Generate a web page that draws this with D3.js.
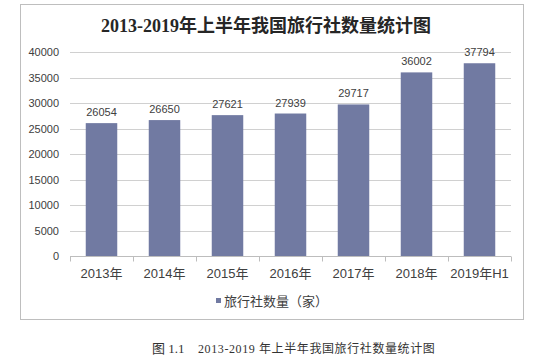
<!DOCTYPE html>
<html><head><meta charset="utf-8">
<script src="https://cdn.jsdelivr.net/npm/d3@7"></script>
<style>body{margin:0;background:#fff}svg{display:block}</style>
</head><body>
<script>
const categories = ["2013年","2014年","2015年","2016年","2017年","2018年","2019年H1"];
const values = [26054,26650,27621,27939,29717,36002,37794];
const yTicks = [0,5000,10000,15000,20000,25000,30000,35000,40000];
const title = "2013-2019年上半年我国旅行社数量统计图";
const legendLabel = "旅行社数量（家）";
const captionNum = "图 1.1";
const captionText = "2013-2019 年上半年我国旅行社数量统计图";

const W = 534, H = 361;
const svg = d3.select("body").append("svg").attr("width", W).attr("height", H);
const sans = "Arial, 'Liberation Sans', 'Noto Sans CJK SC', sans-serif";
const serif = "'Liberation Serif', 'Times New Roman', 'Noto Sans CJK SC', serif";

// frame
svg.append("rect").attr("x", 20.5).attr("y", 4.5).attr("width", 503).attr("height", 315)
  .attr("fill", "#fff").attr("stroke", "#BEBEBE").attr("stroke-width", 1);

svg.append("text").attr("x", 266).attr("y", 32).attr("text-anchor", "middle")
  .attr("font-family", serif).attr("font-weight", "bold").attr("font-size", 18)
  .attr("fill", "#262626").text(title);

const x = d3.scaleBand().domain(categories).range([70, 511]).paddingInner(0.5).paddingOuter(0.25);
const y = d3.scaleLinear().domain([0, 40000]).range([256, 52]);

// gridlines
svg.append("g").selectAll("line").data(yTicks.filter(d => d > 0)).join("line")
  .attr("x1", 70).attr("x2", 511)
  .attr("y1", d => Math.round(y(d)) + 0.5).attr("y2", d => Math.round(y(d)) + 0.5)
  .attr("stroke", "#D0D0D0");

// y axis labels
const yAxis = d3.axisLeft(y).tickValues(yTicks).tickSize(0).tickPadding(0).tickFormat(d3.format("d"));
const gy = svg.append("g").attr("transform", "translate(59,0)").call(yAxis);
gy.select(".domain").remove();
gy.selectAll("text").attr("font-family", sans).attr("font-size", 11).attr("fill", "#404040");

// bars
svg.append("g").selectAll("rect").data(values).join("rect")
  .attr("x", (d, i) => x(categories[i])).attr("width", x.bandwidth())
  .attr("y", d => y(d)).attr("height", d => y(0) - y(d))
  .attr("fill", "#717AA2");

// data labels
svg.append("g").selectAll("text").data(values).join("text")
  .attr("x", (d, i) => x(categories[i]) + x.bandwidth() / 2)
  .attr("y", d => y(d) - 7)
  .attr("text-anchor", "middle")
  .attr("font-family", sans).attr("font-size", 11).attr("fill", "#404040")
  .text(d => d);

// x axis
const base = Math.round(y(0)) + 0.5;
svg.append("line").attr("x1", 70).attr("x2", 511).attr("y1", base).attr("y2", base).attr("stroke", "#BDBDBD");
const step = (511 - 70) / categories.length;
svg.append("g").selectAll("line").data(d3.range(categories.length + 1)).join("line")
  .attr("x1", i => Math.round(70 + i * step) + 0.5).attr("x2", i => Math.round(70 + i * step) + 0.5)
  .attr("y1", base).attr("y2", base + 5).attr("stroke", "#BDBDBD");
svg.append("g").selectAll("text").data(categories).join("text")
  .attr("x", d => x(d) + x.bandwidth() / 2).attr("y", 278)
  .attr("text-anchor", "middle")
  .attr("font-family", sans).attr("font-size", 13).attr("fill", "#404040")
  .text(d => d);

// legend
svg.append("rect").attr("x", 216).attr("y", 298).attr("width", 5).attr("height", 5).attr("fill", "#717AA2");
svg.append("text").attr("x", 224).attr("y", 305.5)
  .attr("font-family", sans).attr("font-size", 13).attr("fill", "#404040").text(legendLabel);

// caption
svg.append("text").attr("x", 152).attr("y", 353)
  .attr("font-family", serif).attr("font-size", 13).attr("fill", "#333")
  .style("white-space", "pre").text(captionNum);
svg.append("text").attr("x", 198).attr("y", 353)
  .attr("font-family", serif).attr("font-size", 12).attr("fill", "#333")
  .attr("letter-spacing", 0.6).style("white-space", "pre").text(captionText);
</script>
</body></html>
